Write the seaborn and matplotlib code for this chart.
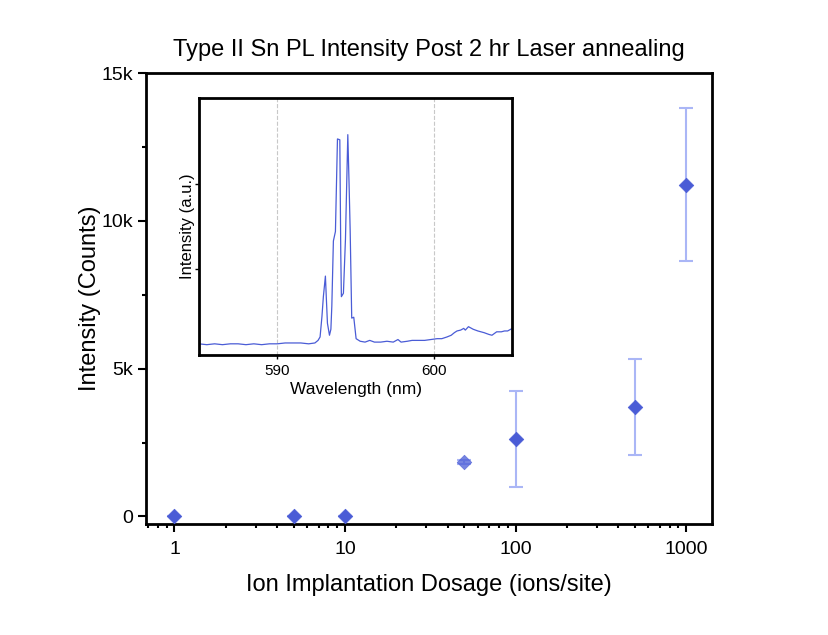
import numpy as np
import pandas as pd
import matplotlib
matplotlib.use("Agg")
import matplotlib.pyplot as plt
import matplotlib.ticker as mticker
import seaborn as sns

# ---- data ----
dosage = [1, 5, 10, 50, 100, 500, 1000]
intensity = [0, 0, 0, 1850, 2630, 3720, 11220]
err_low = [0, 0, 0, 60, 1640, 1630, 2580]
err_high = [0, 0, 0, 60, 1630, 1600, 2590]
marker_alpha = [1, 1, 1, 0.75, 1, 1, 1]

wavelength = [585.0, 585.5, 586.0, 586.5, 587.0, 587.5, 588.0, 588.5, 589.0, 589.5,
              590.0, 590.5, 591.0, 591.5, 592.0, 592.4, 592.6, 592.73, 592.85, 592.94,
              593.07, 593.14, 593.2, 593.33, 593.42, 593.48, 593.58, 593.71, 593.84,
              593.99, 594.05, 594.09, 594.22, 594.35, 594.5, 594.58, 594.65, 594.75,
              594.88, 595.03, 595.29, 595.6, 595.9, 596.2, 596.6, 597.0, 597.4, 597.7,
              597.9, 598.3, 598.6, 599.0, 599.4, 599.8, 600.2, 600.5, 600.83, 601.1,
              601.3, 601.47, 601.7, 601.9, 602.0, 602.1, 602.2, 602.5, 602.8, 603.2,
              603.5, 603.7, 604.0, 604.3, 604.5, 604.7, 605.0]
spec = [0.13, 0.12, 0.13, 0.12, 0.13, 0.13, 0.12, 0.13, 0.12, 0.13,
        0.13, 0.14, 0.14, 0.14, 0.13, 0.14, 0.17, 0.21, 0.45, 0.68,
        0.92, 0.62, 0.37, 0.23, 0.30, 0.57, 1.33, 1.44, 2.52,
        2.51, 1.20, 0.68, 0.72, 1.35, 2.57, 2.00, 1.46, 0.43,
        0.44, 0.19, 0.16, 0.15, 0.17, 0.15, 0.15, 0.16, 0.15, 0.18,
        0.15, 0.16, 0.17, 0.17, 0.17, 0.18, 0.19, 0.19, 0.21, 0.23,
        0.26, 0.28, 0.29, 0.31, 0.29, 0.31, 0.33, 0.30, 0.28, 0.26,
        0.24, 0.23, 0.27, 0.27, 0.28, 0.28, 0.31]

main_df = pd.DataFrame({"dosage": dosage, "intensity": intensity, "alpha": marker_alpha})
spec_df = pd.DataFrame({"wl": wavelength, "I": spec})

sns.set_style("ticks")
plt.rcParams["font.family"] = ["Liberation Sans", "DejaVu Sans"]
plt.rcParams["text.color"] = "black"
plt.rcParams["axes.labelcolor"] = "black"
plt.rcParams["xtick.color"] = "black"
plt.rcParams["ytick.color"] = "black"

blue = "#4a5cd6"
light = "#aab6f6"

fig = plt.figure(figsize=(8.29, 6.35), dpi=100)
ax = fig.add_axes([0.176, 0.175, 0.683, 0.710])

ax.errorbar(dosage, intensity, yerr=[err_low, err_high], fmt="none",
            ecolor=light, elinewidth=1.5, capsize=5, capthick=1.5, zorder=2)
for a_val, sub in main_df.groupby("alpha"):
    sns.scatterplot(data=sub, x="dosage", y="intensity", ax=ax, marker="D",
                    s=55, color=blue, edgecolor=blue, linewidth=0.5,
                    alpha=a_val, zorder=3)
ax.set_xscale("log")
ax.set_xlim(0.68, 1420)
ax.set_ylim(-250, 15000)
ax.set_xticks([1, 10, 100, 1000])
ax.set_xticklabels(["1", "10", "100", "1000"])
ax.set_yticks([0, 5000, 10000, 15000])
ax.set_yticklabels(["0", "5k", "10k", "15k"])
ax.yaxis.set_minor_locator(mticker.MultipleLocator(2500))
ax.xaxis.set_minor_locator(mticker.LogLocator(base=10, subs=np.arange(2, 10)))
ax.xaxis.set_minor_formatter(mticker.NullFormatter())
ax.tick_params(axis="both", which="major", direction="out", length=6, width=1.5,
               labelsize=14, colors="black")
ax.tick_params(axis="x", which="major", pad=6)
ax.tick_params(axis="both", which="minor", direction="out", length=3, width=1.5)
for s in ax.spines.values():
    s.set_linewidth(2)
    s.set_color("black")
ax.set_xlabel("Ion Implantation Dosage (ions/site)", fontsize=17, labelpad=12)
ax.set_ylabel("Intensity (Counts)", fontsize=17, labelpad=0)
ax.set_title("Type II Sn PL Intensity Post 2 hr Laser annealing", fontsize=17, pad=12)

# ---- inset ----
ins = fig.add_axes([0.240, 0.441, 0.378, 0.405])
sns.lineplot(data=spec_df, x="wl", y="I", ax=ins, color=blue, linewidth=0.9)
ins.set_xlim(585, 605)
ins.set_ylim(0, 3.0)
ins.set_xticks([590, 600])
ins.set_yticks([1, 2])
ins.set_yticklabels([])
ins.grid(axis="x", linestyle="--", color="#c8c8c8", linewidth=0.8)
ins.tick_params(axis="both", direction="out", length=3, width=1, labelsize=11,
                colors="black")
for s in ins.spines.values():
    s.set_linewidth(2)
    s.set_color("black")
ins.set_xlabel("Wavelength (nm)", fontsize=12.5, labelpad=3)
ins.set_ylabel("Intensity (a.u.)", fontsize=12, labelpad=-4)

fig.savefig("out.png", dpi=100)
